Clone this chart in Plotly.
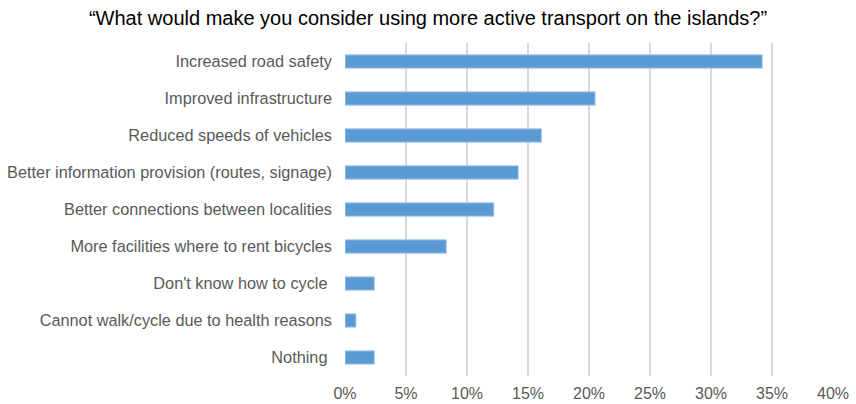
import plotly.graph_objects as go

categories = [
    "Increased road safety",
    "Improved infrastructure",
    "Reduced speeds of vehicles",
    "Better information provision (routes, signage)",
    "Better connections between localities",
    "More facilities where to rent bicycles",
    "Don't know how to cycle\u00a0",
    "Cannot walk/cycle due to health reasons",
    "Nothing\u00a0",
]
values = [34.2, 20.5, 16.1, 14.2, 12.2, 8.3, 2.4, 0.9, 2.4]
x_ticks = [0, 5, 10, 15, 20, 25, 30, 35, 40]
x_tick_labels = [f"{t}%" for t in x_ticks]

title_text = "\u201cWhat would make you consider using more active transport on the islands?\u201d"

fig = go.Figure(
    go.Bar(
        x=values,
        y=categories,
        orientation="h",
        marker=dict(color="#5B9BD5", line=dict(color="#A9C8EA", width=1)),
        hoverinfo="skip",
    )
)

fig.update_layout(
    width=856,
    height=404,
    margin=dict(l=345, r=23, t=43, b=28),
    paper_bgcolor="white",
    plot_bgcolor="white",
    bargap=0.64,
    showlegend=False,
    font=dict(family="Liberation Sans, Arial, sans-serif", color="#595959"),
    title=dict(
        text=title_text,
        x=0.5,
        xanchor="center",
        y=0.955,
        yanchor="middle",
        font=dict(size=20, color="#000000", family="Liberation Sans, Arial, sans-serif"),
    ),
)

fig.update_xaxes(
    range=[0, 40],
    tickvals=x_ticks,
    ticktext=x_tick_labels,
    showgrid=True,
    gridcolor="#D9D9D9",
    gridwidth=2,
    zeroline=False,
    showline=False,
    ticks="",
    ticklabelstandoff=6,
    tickfont=dict(size=16, color="#595959"),
    automargin=False,
    fixedrange=True,
)

fig.update_yaxes(
    autorange="reversed",
    showgrid=False,
    zeroline=False,
    showline=False,
    ticks="",
    ticklabelstandoff=12,
    tickfont=dict(size=16.3, color="#595959"),
    automargin=False,
    fixedrange=True,
)

fig.write_html("out.html")
